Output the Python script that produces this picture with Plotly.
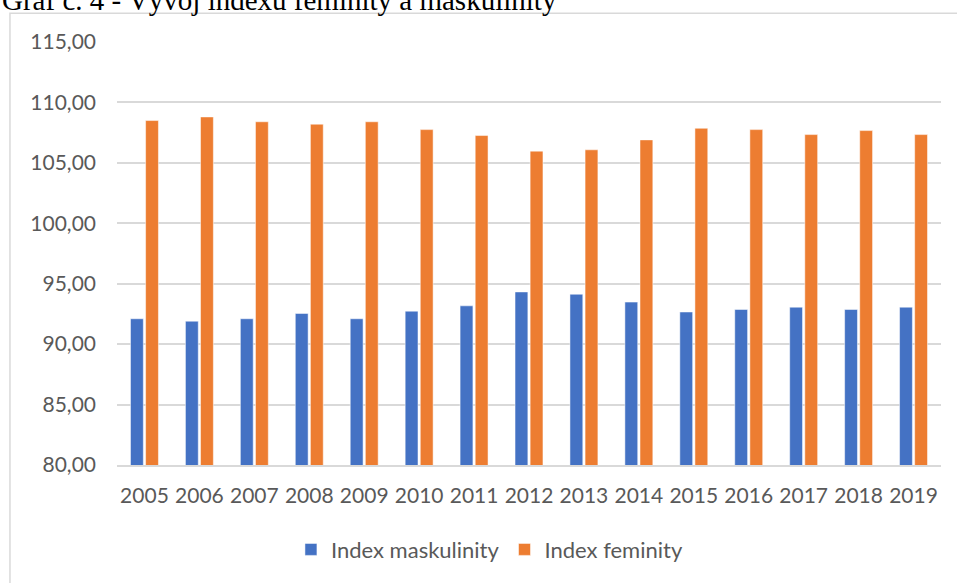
import plotly.graph_objects as go

years = [str(y) for y in range(2005, 2020)]
index_maskulinity = [92.10, 91.90, 92.10, 92.54, 92.10, 92.73, 93.17, 94.32, 94.13,
                     93.48, 92.66, 92.87, 93.06, 92.87, 93.06]
index_feminity = [108.50, 108.80, 108.40, 108.20, 108.40, 107.75, 107.26, 105.97, 106.08,
                  106.90, 107.86, 107.75, 107.34, 107.67, 107.34]

title_text = "Graf č. 4 - Vývoj indexu feminity a maskulinity"

font_main = "Lato, 'Open Sans', sans-serif"
grid_color = "#D9D9D9"

fig = go.Figure()
fig.add_trace(go.Bar(
    x=years, y=index_maskulinity, name="Index maskulinity",
    marker={"color": "#4472C4", "line": {"color": "rgba(255,255,255,0.5)", "width": 1}},
))
fig.add_trace(go.Bar(
    x=years, y=index_feminity, name="Index feminity",
    marker={"color": "#ED7D31", "line": {"color": "rgba(255,255,255,0.5)", "width": 1}},
))

fig.update_layout(
    width=957,
    height=583,
    margin={"l": 117, "r": 16, "t": 42, "b": 116},
    paper_bgcolor="white",
    plot_bgcolor="white",
    barmode="group",
    bargap=0.45,
    bargroupgap=0.15,
    separators=", ",
    font={"family": font_main, "size": 21, "color": "#595959"},
    showlegend=True,
    legend={
        "orientation": "h",
        "x": 0.452, "xanchor": "center",
        "y": -0.2, "yanchor": "middle",
        "font": {"size": 22, "color": "#595959"},
        "itemwidth": 30,
        "traceorder": "normal",
    },
)

fig.update_yaxes(
    range=[80, 115],
    dtick=5,
    tick0=80,
    tickformat=".2f",
    showgrid=True,
    gridcolor=grid_color,
    gridwidth=2,
    zeroline=False,
    showline=False,
    ticklabelstandoff=20,
    automargin=False,
)
fig.update_xaxes(
    showgrid=False,
    showline=True,
    linecolor=grid_color,
    linewidth=2,
    ticks="",
    ticklabelstandoff=11,
    automargin=False,
)

# chart frame
fig.add_shape(
    type="rect", xref="paper", yref="paper",
    x0=-0.1299, x1=1.1, y0=-0.4, y1=1.068,
    line={"color": grid_color, "width": 1.5},
    fillcolor="rgba(0,0,0,0)",
    layer="below",
)

fig.add_annotation(
    text=title_text,
    xref="paper", yref="paper",
    x=-0.142, xanchor="left",
    y=1.0565, yanchor="bottom",
    showarrow=False,
    font={"family": "'Liberation Serif', 'Times New Roman', serif", "size": 29, "color": "black"},
)

# page without the default body margin, so the figure sits at the window corner
fig.write_html(
    "out.html",
    config={"displayModeBar": False},
    post_script="document.body.style.margin='0px';",
)
